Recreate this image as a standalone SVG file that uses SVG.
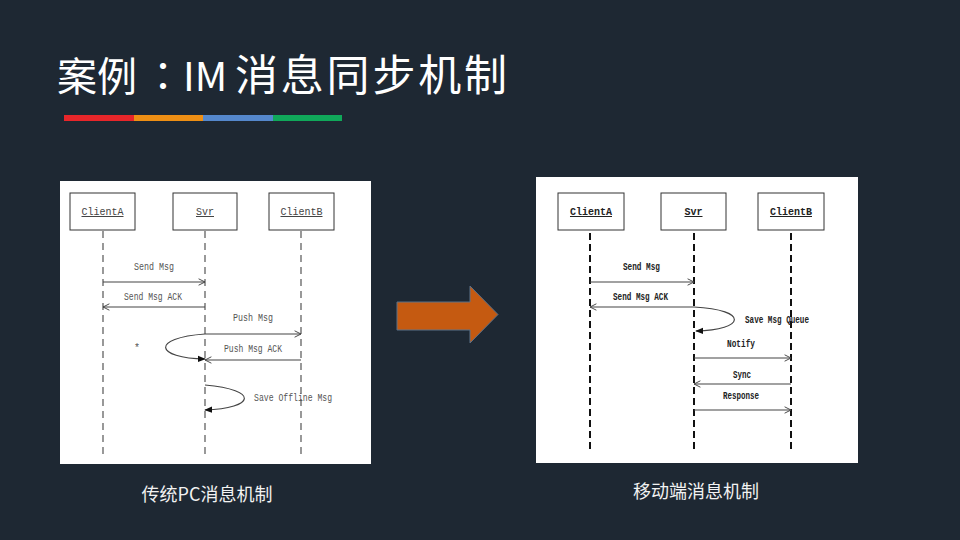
<svg xmlns="http://www.w3.org/2000/svg" width="960" height="540" viewBox="0 0 960 540">
<defs>
<style>
.title{font-family:"Noto Sans CJK SC","Noto Sans",sans-serif;fill:#ffffff;}
.cap{font-family:"Noto Sans CJK SC","Noto Sans",sans-serif;fill:#f2f2f2;font-size:18px;text-anchor:middle;}
.box{fill:#ffffff;stroke:#333333;stroke-width:1;}
.lbl{font-family:"Liberation Mono",monospace;font-size:10px;fill:#555555;}
.lblR{font-family:"Liberation Mono",monospace;font-size:10px;fill:#222222;font-weight:bold;}
.node{font-family:"Liberation Mono",monospace;font-size:10px;fill:#444444;text-anchor:middle;text-decoration:underline;}
.nodeR{font-family:"Liberation Mono",monospace;font-size:10px;fill:#222222;text-anchor:middle;text-decoration:underline;font-weight:bold;}
.life{stroke:#555555;stroke-width:1.2;stroke-dasharray:7,5;fill:none;}
.lifeR{stroke:#111111;stroke-width:2;stroke-dasharray:7,4;fill:none;}
.msg{stroke:#444444;stroke-width:1.2;fill:none;marker-end:url(#open);}
.self{stroke:#444444;stroke-width:1.2;fill:none;marker-end:url(#filled);}
</style>
<marker id="open" viewBox="0 0 10 10" refX="9" refY="5" markerWidth="8" markerHeight="8" markerUnits="userSpaceOnUse" orient="auto">
<path d="M1,1 L9,5 L1,9" fill="none" stroke="#444444" stroke-width="1.2"/>
</marker>
<marker id="filled" viewBox="0 0 10 10" refX="9" refY="5" markerWidth="8" markerHeight="8" markerUnits="userSpaceOnUse" orient="auto">
<path d="M0,1 L10,5 L0,9 Z" fill="#111111"/>
</marker>
</defs>
<rect x="0" y="0" width="960" height="540" fill="#1e2833"/>
<g id="title">
<text class="title" y="91" font-size="40"><tspan x="57">案</tspan><tspan x="97">例</tspan><tspan x="143" font-family="Noto Sans CJK JP, sans-serif">：</tspan><tspan x="183">IM</tspan><tspan x="235" font-size="43" textLength="272" lengthAdjust="spacing">消息同步机制</tspan></text>
<rect x="64" y="115" width="70" height="6" fill="#e8262a"/>
<rect x="134" y="115" width="69" height="6" fill="#ee8f14"/>
<rect x="203" y="115" width="70" height="6" fill="#5588cc"/>
<rect x="273" y="115" width="69" height="6" fill="#10a85a"/>
</g>
<g id="left-panel">
<rect x="60" y="181" width="311" height="283" fill="#ffffff"/>
<g id="L-ClientA"><rect class="box" x="70" y="193" width="65" height="37"/><text class="node" x="102.5" y="215">ClientA</text></g>
<g id="L-Svr"><rect class="box" x="173" y="193" width="64" height="37"/><text class="node" x="205" y="215">Svr</text></g>
<g id="L-ClientB"><rect class="box" x="269" y="193" width="65" height="37"/><text class="node" x="301.5" y="215">ClientB</text></g>
<g id="L-connectors">
<line class="life" x1="103" y1="231" x2="103" y2="455"/>
<line class="life" x1="205" y1="231" x2="205" y2="455"/>
<line class="life" x1="301" y1="231" x2="301" y2="455"/>
<line class="msg" x1="103" y1="282" x2="205" y2="282"/>
<line class="msg" x1="205" y1="307" x2="103" y2="307"/>
<line class="msg" x1="205" y1="334" x2="301" y2="334"/>
<line class="msg" x1="301" y1="360" x2="205" y2="360"/>
<path class="self" d="M205,334 C150,338 155,358 205,359"/>
<path class="self" d="M205,385 C260,390 255,408 205,410"/>
</g>
<text class="lbl" x="134" y="270" textLength="40" lengthAdjust="spacingAndGlyphs">Send Msg</text>
<text class="lbl" x="124" y="300" textLength="58" lengthAdjust="spacingAndGlyphs">Send Msg ACK</text>
<text class="lbl" x="233" y="321" textLength="40" lengthAdjust="spacingAndGlyphs">Push Msg</text>
<text class="lbl" x="224" y="352" textLength="58" lengthAdjust="spacingAndGlyphs">Push Msg ACK</text>
<text class="lbl" x="134" y="351">*</text>
<text class="lbl" x="254" y="401" textLength="78" lengthAdjust="spacingAndGlyphs">Save Offline Msg</text>
</g>
<g id="arrow">
<path d="M397,302 L470,302 L470,286 L498,314.5 L470,343 L470,330 L397,330 Z" fill="#c55a11" stroke="#5a7088" stroke-width="1"/>
</g>
<g id="right-panel">
<rect x="536" y="177" width="322" height="286" fill="#ffffff"/>
<g id="R-ClientA"><rect class="box" x="558" y="193" width="66" height="37"/><text class="nodeR" x="591" y="215">ClientA</text></g>
<g id="R-Svr"><rect class="box" x="661" y="193" width="65" height="37"/><text class="nodeR" x="693.5" y="215">Svr</text></g>
<g id="R-ClientB"><rect class="box" x="758" y="193" width="66" height="37"/><text class="nodeR" x="791" y="215">ClientB</text></g>
<g id="R-connectors">
<line class="lifeR" x1="590" y1="233" x2="590" y2="453"/>
<line class="lifeR" x1="694" y1="233" x2="694" y2="453"/>
<line class="lifeR" x1="791" y1="233" x2="791" y2="453"/>
<line class="msg" x1="590" y1="282" x2="694" y2="282"/>
<line class="msg" x1="694" y1="307" x2="590" y2="307"/>
<path class="self" d="M694,307 C750,310 745,330 696,331"/>
<line class="msg" x1="694" y1="358" x2="791" y2="358"/>
<line class="msg" x1="791" y1="384" x2="694" y2="384"/>
<line class="msg" x1="694" y1="410" x2="791" y2="410"/>
</g>
<text class="lblR" x="623" y="270" textLength="37" lengthAdjust="spacingAndGlyphs">Send Msg</text>
<text class="lblR" x="613" y="300" textLength="55" lengthAdjust="spacingAndGlyphs">Send Msg ACK</text>
<text class="lblR" x="745" y="323" textLength="64" lengthAdjust="spacingAndGlyphs">Save Msg Queue</text>
<text class="lblR" x="727" y="347" textLength="28" lengthAdjust="spacingAndGlyphs">Notify</text>
<text class="lblR" x="733" y="378" textLength="18" lengthAdjust="spacingAndGlyphs">Sync</text>
<text class="lblR" x="723" y="399" textLength="36" lengthAdjust="spacingAndGlyphs">Response</text>
</g>
<g id="captions">
<text class="cap" x="207" y="501">传统PC消息机制</text>
<text class="cap" x="696" y="498">移动端消息机制</text>
</g>
</svg>
